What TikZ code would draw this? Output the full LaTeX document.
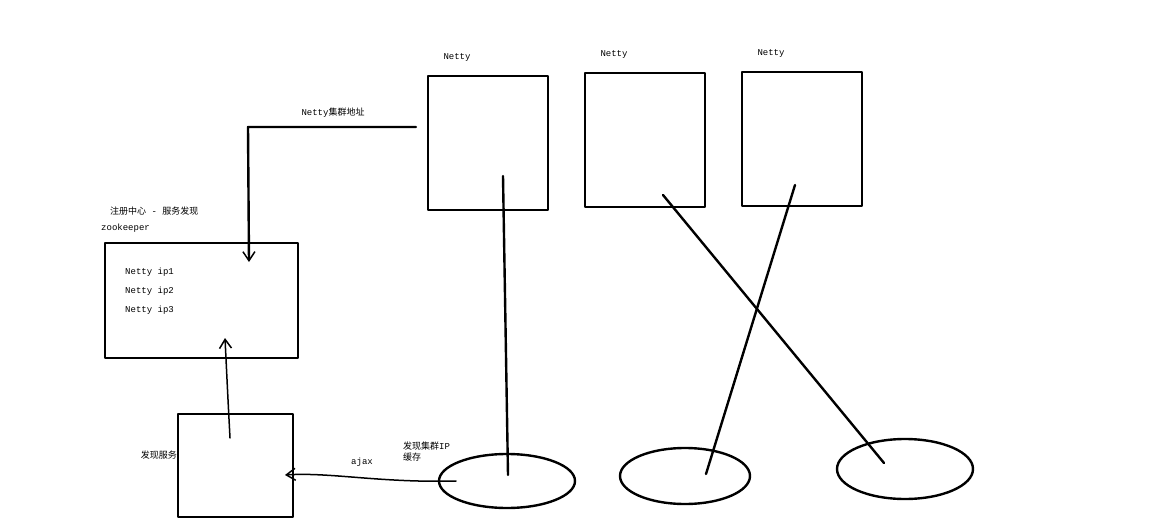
\documentclass[tikz,border=0pt]{standalone}
\usepackage{fontspec}
\setmainfont{Liberation Mono}
\newfontfamily\cjk{Noto Sans CJK SC}
\usetikzlibrary{arrows.meta,shapes.geometric}
\begin{document}
\begin{tikzpicture}[line cap=round,line join=round,x=1pt,y=-1pt,
  stroke/.style={line width=2.4pt,black},
  client/.style={draw,line width=2.4pt,ellipse,inner sep=0pt},
  lbl/.style={font=\fontsize{9}{11}\selectfont,inner sep=0pt},
  >={Straight Barb[length=9pt,width=12pt,line width=1.5pt]}]
\useasboundingbox (0,0) rectangle (1151,527);

% Netty servers
\foreach \x/\y/\n in {428/76/a,585/73/b,742/72/c}
{\draw[stroke] (\x,\y) rectangle ++(120,134);
 \node[lbl] (lab\n) at (\x+29,\y-19) {Netty};
}
\coordinate (sa) at (503,176);
\coordinate (sb) at (663,195);
\coordinate (sc) at (795,185);

% registry
\draw[stroke] (105,243) rectangle (298,358);
\node[lbl,anchor=west] (reg) at (110,211) {{\cjk 注册中心} - {\cjk 服务发现}};
\node[lbl,anchor=west] (zk) at (101,228) {zookeeper};
\node[lbl,anchor=west] (ip1) at (125,272) {Netty ip1};
\node[lbl,anchor=west] (ip2) at (125,291) {Netty ip2};
\node[lbl,anchor=west] (ip3) at (125,310) {Netty ip3};

% discovery service
\draw[stroke] (178,414) rectangle (293,517);
\node[lbl,anchor=east] (disc) at (177,455) {\cjk 发现服务};

% clients
\node[client,minimum width=136pt,minimum height=54pt] (ca) at (507,481) {};
\node[client,minimum width=130pt,minimum height=56pt] (cb) at (685,476) {};
\node[client,minimum width=136pt,minimum height=60pt] (cc) at (905,469) {};

\draw[stroke] (sa) -- (508,475);
\draw[stroke] (sb) -- (884,463);
\draw[stroke] (sc) -- (706,474);

% arrows
\draw[stroke,->] (416,127) -- (248,127) -- (249,262);
\node[lbl] (addr) at (333,113) {Netty{\cjk 集群地址}};
\draw[stroke,line width=1.5pt,->] (230,438) .. controls (228,400) .. (225,338);
\draw[stroke,line width=1.5pt,->] (456,481) .. controls (380,483) and (330,472) .. (285,475);
\node[lbl] (ajax) at (362,462) {ajax};
\node[lbl,anchor=west,align=left] (cache) at (403,452) {{\cjk 发现集群}IP\\{\cjk 缓存}};
\end{tikzpicture}
\end{document}
